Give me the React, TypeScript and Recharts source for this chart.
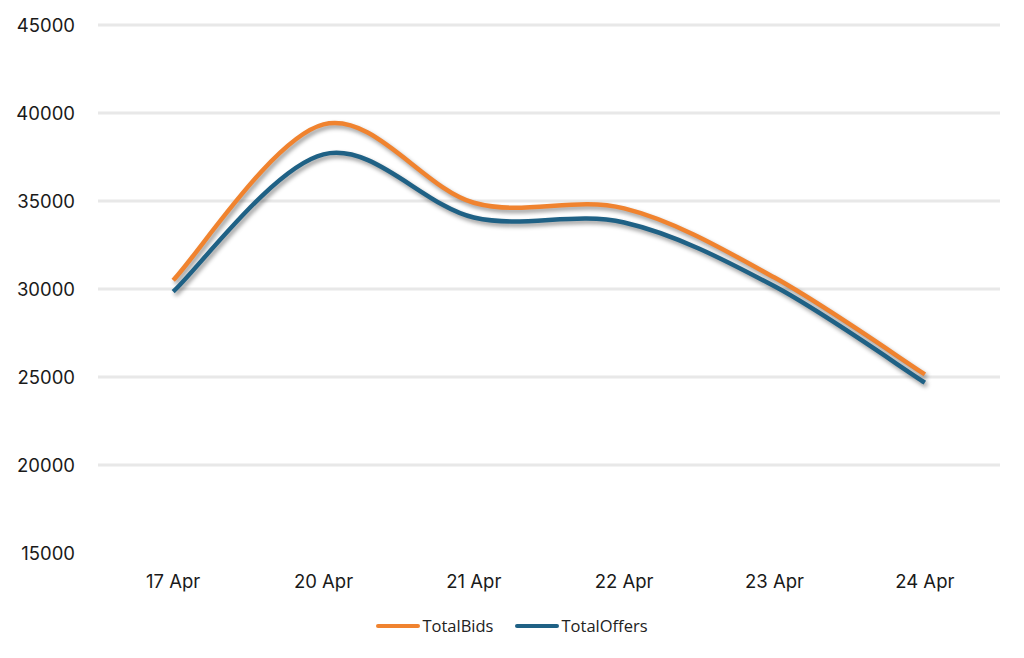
import React from 'react';
import { LineChart, Line, XAxis, YAxis, ReferenceLine, Legend } from 'recharts';

const categories = ['17 Apr', '20 Apr', '21 Apr', '22 Apr', '23 Apr', '24 Apr'];
const totalBids = [30500, 39350, 34900, 34580, 30650, 25150];
const totalOffers = [29850, 37650, 34060, 33780, 30150, 24680];
const yTicks = [15000, 20000, 25000, 30000, 35000, 40000, 45000];
const gridTicks = [20000, 25000, 30000, 35000, 40000, 45000];

const data = categories.map((c, i) => ({ date: c, TotalBids: totalBids[i], TotalOffers: totalOffers[i] }));

// Excel-like smoothed line (uniform Catmull-Rom as cubic Bezier)
function excelSmooth(context: any) {
  let pts: [number, number][] = [];
  return {
    areaStart() {},
    areaEnd() {},
    lineStart() { pts = []; },
    lineEnd() {
      const n = pts.length;
      if (n === 0) return;
      context.moveTo(pts[0][0], pts[0][1]);
      for (let i = 0; i < n - 1; i++) {
        const p0 = pts[Math.max(i - 1, 0)];
        const p1 = pts[i];
        const p2 = pts[i + 1];
        const p3 = pts[Math.min(i + 2, n - 1)];
        context.bezierCurveTo(
          p1[0] + (p2[0] - p0[0]) / 6, p1[1] + (p2[1] - p0[1]) / 6,
          p2[0] - (p3[0] - p1[0]) / 6, p2[1] - (p3[1] - p1[1]) / 6,
          p2[0], p2[1]
        );
      }
    },
    point(x: number, y: number) { pts.push([+x, +y]); },
  };
}

const ORANGE = '#F0832F';
const BLUE = '#1F6185';
const FONT = 'Inter, "Open Sans", sans-serif';

const renderLegend = (props: any) => (
  <div style={{ display: 'flex', justifyContent: 'center', alignItems: 'center', fontFamily: '"Open Sans", sans-serif', fontSize: 16.5, color: '#222' }}>
    {(props.payload || []).map((p: any, i: number) => (
      <div key={i} style={{ display: 'flex', alignItems: 'center', marginRight: i === 0 ? 22 : 0 }}>
        <svg width={44} height={6} style={{ display: 'block' }}>
          <line x1={2} y1={3} x2={42} y2={3} stroke={p.color} strokeWidth={4} strokeLinecap="round" />
        </svg>
        <span style={{ marginLeft: 2 }}>{p.value}</span>
      </div>
    ))}
  </div>
);

export default function App() {
  return (
    <div style={{ width: 1024, height: 658, background: '#fff', position: 'relative' }}>
      <style>{`body{margin:0;} .recharts-line-curve{filter: drop-shadow(2px 3px 2px rgba(0,0,0,0.4));}`}</style>
      <LineChart width={1024} height={658} data={data} margin={{ top: 25, right: 24, bottom: 65, left: 0 }}>
        <XAxis
          dataKey="date"
          scale="band"
          height={40}
          axisLine={false}
          tickLine={false}
          tickSize={0}
          tickMargin={22}
          tick={{ fill: '#1a1a1a', fontSize: 18.5, fontFamily: FONT }}
        />
        <YAxis
          width={98}
          domain={[15000, 45000]}
          ticks={yTicks}
          axisLine={false}
          tickLine={false}
          tickSize={0}
          tickMargin={23}
          tick={{ fill: '#1a1a1a', fontSize: 18.5, fontFamily: FONT }}
        />
        {gridTicks.map((t) => (
          <ReferenceLine key={t} y={t} stroke="#E8E8E8" strokeWidth={3} />
        ))}
        <Line type={excelSmooth as any} dataKey="TotalBids" stroke={ORANGE} strokeWidth={4.5} dot={false} activeDot={false} isAnimationActive={false} />
        <Line type={excelSmooth as any} dataKey="TotalOffers" stroke={BLUE} strokeWidth={4.5} dot={false} activeDot={false} isAnimationActive={false} />
        <Legend verticalAlign="middle" align="center" content={renderLegend} wrapperStyle={{ top: 614, left: 0, width: 1024 }} />
      </LineChart>
    </div>
  );
}
